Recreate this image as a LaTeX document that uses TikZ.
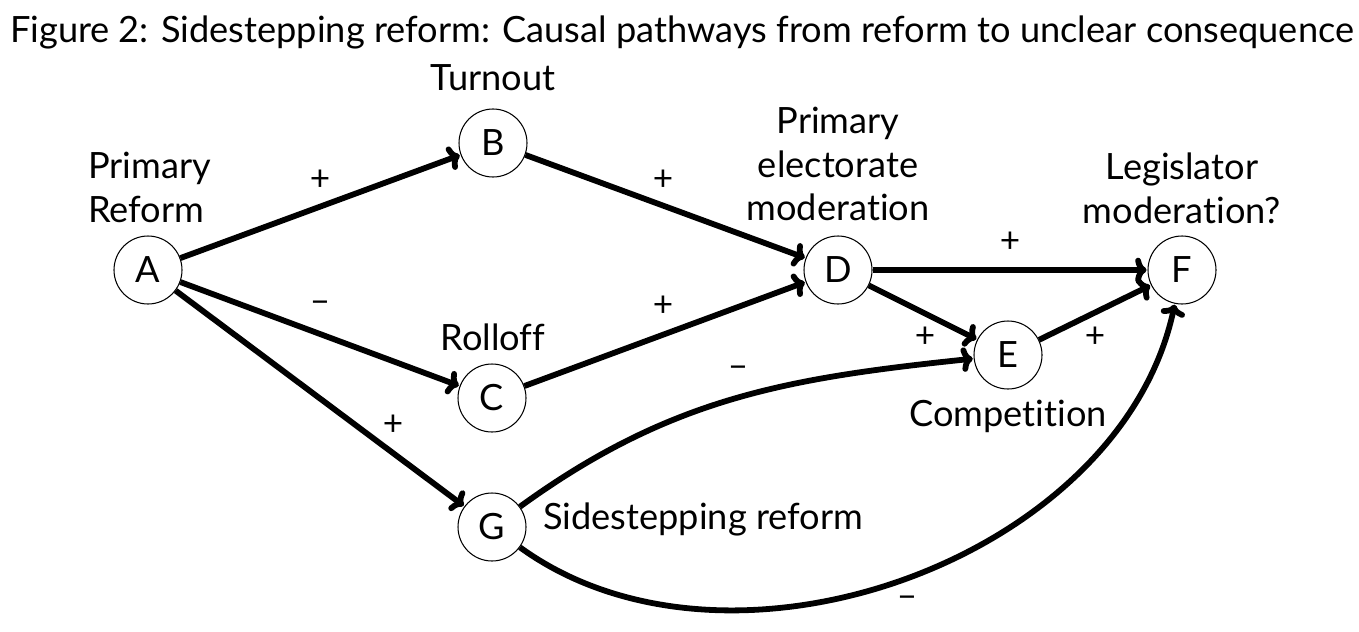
\documentclass[tikz,border=0pt]{standalone}
\usepackage{fontspec}
\setmainfont{Lato}[Ligatures={NoCommon}]
\usetikzlibrary{arrows.meta}
\begin{document}
\begin{tikzpicture}[x=0.02cm,y=-0.02cm,
  vnode/.style={circle,draw,line width=0.6pt,minimum size=68*0.02cm,inner sep=0pt,font=\fontsize{20.6}{25}\selectfont},
  lbl/.style={font=\fontsize{20.6}{25}\selectfont,align=center,inner sep=0pt},
  sgn/.style={font=\fontsize{20}{22}\selectfont,inner sep=0pt},
  edge/.style={line width=3.3pt,-{Computer Modern Rightarrow[length=6.5pt,width=14pt]},shorten >=0.5pt}]
\useasboundingbox (0,0) rectangle (1359,632);
\node[lbl] (title) at (682,32) {Figure 2: Sidestepping reform: Causal pathways from reform to unclear consequence};
\node[vnode] (A) at (148,270) {A};
\node[vnode] (B) at (493,143) {B};
\node[vnode] (C) at (492,398) {C};
\node[vnode] (D) at (838,270) {D};
\node[vnode] (E) at (1008,355) {E};
\node[vnode] (F) at (1182,270) {F};
\node[vnode] (G) at (492,527) {G};
\node[lbl,align=left,anchor=west] (lA) at (88,187) {Primary\\Reform};
\node[lbl] (lB) at (493,78) {Turnout};
\node[lbl] (lD) at (838,164) {Primary\\electorate\\moderation};
\node[lbl] (lF) at (1182,188) {Legislator\\moderation?};
\node[lbl] (lC) at (493,337) {Rolloff};
\node[lbl] (lE) at (1008,416) {Competition};
\node[lbl,anchor=west] (lG) at (543,519) {Sidestepping reform};
\draw[edge] (A) -- (B);
\draw[edge] (B) -- (D);
\draw[edge] (A) -- (C);
\draw[edge] (C) -- (D);
\draw[edge] (A) -- (G);
\draw[edge] (D) -- (F);
\draw[edge] (D) -- (E);
\draw[edge] (E) -- (F);
\draw[edge] (G) to[out=36,in=186] (E);
\draw[edge] (G) to[out=-36,in=-102,looseness=0.95] (F);
\node[sgn] (s1) at (320,180) {+};
\node[sgn] (s2) at (663,180) {+};
\node[sgn] (s3) at (320,307) {\textendash};
\node[sgn] (s4) at (663,306) {+};
\node[sgn] (s5) at (393,425) {+};
\node[sgn] (s6) at (1010,242) {+};
\node[sgn] (s7) at (925,337) {+};
\node[sgn] (s8) at (1095,337) {+};
\node[sgn] (s9) at (738,372) {\textendash};
\node[sgn] (s10) at (907,602) {\textendash};
\end{tikzpicture}
\end{document}
